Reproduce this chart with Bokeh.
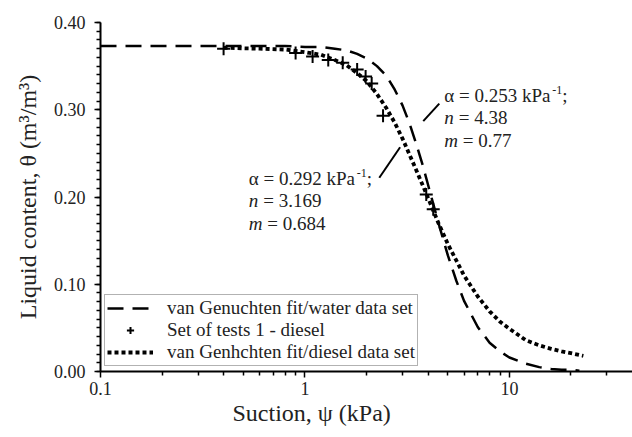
from bokeh.plotting import figure
from bokeh.models import (FixedTicker, CustomJSTickFormatter, NumeralTickFormatter,
                          Legend, LegendItem, Label, Range1d, Title)
from bokeh.embed import file_html
from bokeh.resources import INLINE

# ---- data ----
psi_water = [0.1, 0.4, 0.8, 1.0, 1.2, 1.4, 1.6, 1.8, 2.0, 2.25, 2.5, 2.75, 3.0, 3.25,
             3.5, 3.75, 4.0, 4.5, 5.0, 5.5, 6.0, 7.0, 8.0, 9.0, 10.0, 12.0, 14.0,
             16.0, 18.0, 20.0, 22.0]
theta_water = [0.373, 0.373, 0.373, 0.372, 0.372, 0.370, 0.368, 0.364, 0.359, 0.350,
               0.339, 0.323, 0.305, 0.284, 0.261, 0.238, 0.214, 0.170, 0.133, 0.104,
               0.081, 0.051, 0.033, 0.023, 0.016, 0.009, 0.005, 0.003, 0.002, 0.002,
               0.001]

psi_diesel = [0.4, 0.6, 0.8, 1.0, 1.2, 1.4, 1.6, 1.8, 2.0, 2.25, 2.5, 2.75, 3.0, 3.5,
              4.0, 4.5, 5.0, 6.0, 7.0, 8.0, 9.0, 10.0, 12.0, 14.0, 16.0, 18.0, 20.0,
              23.0]
theta_diesel = [0.371, 0.370, 0.369, 0.366, 0.363, 0.357, 0.351, 0.342, 0.333, 0.318,
                0.302, 0.285, 0.267, 0.231, 0.199, 0.170, 0.146, 0.110, 0.086, 0.069,
                0.057, 0.049, 0.036, 0.030, 0.026, 0.023, 0.021, 0.018]

psi_tests = [0.40, 0.90, 1.09, 1.30, 1.53, 1.80, 1.98, 2.12, 2.41, 3.92, 4.24]
theta_tests = [0.370, 0.365, 0.361, 0.357, 0.354, 0.346, 0.338, 0.330, 0.293, 0.203, 0.186]

x_major_ticks = [0.1, 1, 10]
x_minor_ticks = [0.2, 0.3, 0.4, 0.5, 0.6, 0.7, 0.8, 0.9,
                 2, 3, 4, 5, 6, 7, 8, 9, 20, 30]
y_major_ticks = [0.0, 0.1, 0.2, 0.3, 0.4]
y_minor_ticks = [i / 100 for i in range(0, 41)]

legend_labels = ["van Genuchten fit/water data set",
                 "Set of tests 1 - diesel",
                 "van Genhchten fit/diesel data set"]

FONT = "Liberation Serif"
TXT = "#222222"

p = figure(width=632, height=437, x_axis_type="log",
           x_range=Range1d(0.1, 40), y_range=Range1d(0.0, 0.40),
           output_backend="svg", toolbar_location=None,
           min_border_left=100, min_border_right=0, min_border_top=22,
           min_border_bottom=66)
p.outline_line_color = None
p.xgrid.visible = False
p.ygrid.visible = False
p.background_fill_color = "white"
p.border_fill_color = "white"

# axes
xa = p.xaxis[0]
xa.ticker = FixedTicker(ticks=x_major_ticks, minor_ticks=x_minor_ticks)
xa.formatter = CustomJSTickFormatter(code="return tick.toString();")
ya = p.yaxis[0]
ya.ticker = FixedTicker(ticks=y_major_ticks, minor_ticks=y_minor_ticks)
ya.formatter = NumeralTickFormatter(format="0.00")
ya.axis_label = "Liquid content, θ (m³/m³)"
for ax in (xa, ya):
    ax.axis_line_width = 2
    ax.axis_line_color = "black"
    ax.major_tick_line_width = 1.5
    ax.minor_tick_line_width = 1.5
    ax.major_tick_in = 0
    ax.major_tick_out = 6
    ax.minor_tick_in = 0
    ax.minor_tick_out = 4
    ax.major_label_text_font = FONT
    ax.major_label_text_font_size = "18px"
    ax.major_label_text_color = TXT
    ax.axis_label_text_font = FONT
    ax.axis_label_text_font_size = "24px"
    ax.axis_label_text_font_style = "normal"
    ax.axis_label_text_color = TXT
xa.major_label_standoff = 4
ya.major_label_standoff = 9
ya.axis_label_standoff = 10

p.add_layout(Title(text="Suction, ψ (kPa)", align="left", offset=132,
                   text_font=FONT, text_font_size="24px", text_font_style="normal",
                   text_color=TXT, standoff=0), "below")

# curves
r_water = p.line(psi_water, theta_water, line_color="black", line_width=2.5,
                 line_dash="16 9")
r_tests = p.scatter(psi_tests, theta_tests, marker="cross", size=13,
                    line_color="black", line_width=2)
r_diesel = p.line(psi_diesel, theta_diesel, line_color="black", line_width=3.8,
                  line_dash="4 3")

# leader lines (annotation positions, in data units)
p.segment(x0=[3.79, 2.31], y0=[0.287, 0.222], x1=[4.54, 2.92], y1=[0.307, 0.257],
          line_color="black", line_width=2)

def annot(x, ys, alpha_txt, n_txt, m_txt):
    common = dict(text_font=FONT, text_font_size="19px", text_color=TXT,
                  text_baseline="middle", text_align="left")
    p.add_layout(Label(x=x, y=ys[0], text=alpha_txt, **common))
    p.add_layout(Label(x=x, y=ys[0], text="-1", x_offset=108, y_offset=6,
                       text_font=FONT, text_font_size="12px", text_color=TXT,
                       text_baseline="middle", text_align="left"))
    p.add_layout(Label(x=x, y=ys[0], text=";", x_offset=118, **common))
    p.add_layout(Label(x=x, y=ys[1], text="n", text_font_style="italic", **common))
    p.add_layout(Label(x=x, y=ys[1], text="= " + n_txt, x_offset=14.5, **common))
    p.add_layout(Label(x=x, y=ys[2], text="m", text_font_style="italic", **common))
    p.add_layout(Label(x=x, y=ys[2], text="= " + m_txt, x_offset=18.5, **common))

annot(4.80, [0.316, 0.291, 0.265], "α = 0.253 kPa", "4.38", "0.77")
annot(0.531, [0.221, 0.196, 0.170], "α = 0.292 kPa", "3.169", "0.684")

legend = Legend(items=[LegendItem(label=legend_labels[0], renderers=[r_water]),
                       LegendItem(label=legend_labels[1], renderers=[r_tests]),
                       LegendItem(label=legend_labels[2], renderers=[r_diesel])],
                location=(4, 5), orientation="vertical",
                label_text_font=FONT, label_text_font_size="19px",
                label_text_color=TXT, label_text_line_height=0.9,
                border_line_color="#666666", border_line_width=1.5,
                background_fill_color="white", background_fill_alpha=1,
                padding=2, spacing=0, margin=0,
                glyph_width=46, glyph_height=18, label_height=18,
                label_standoff=14)
p.add_layout(legend, "center")

open("out.html", "w").write(file_html(p, INLINE))
